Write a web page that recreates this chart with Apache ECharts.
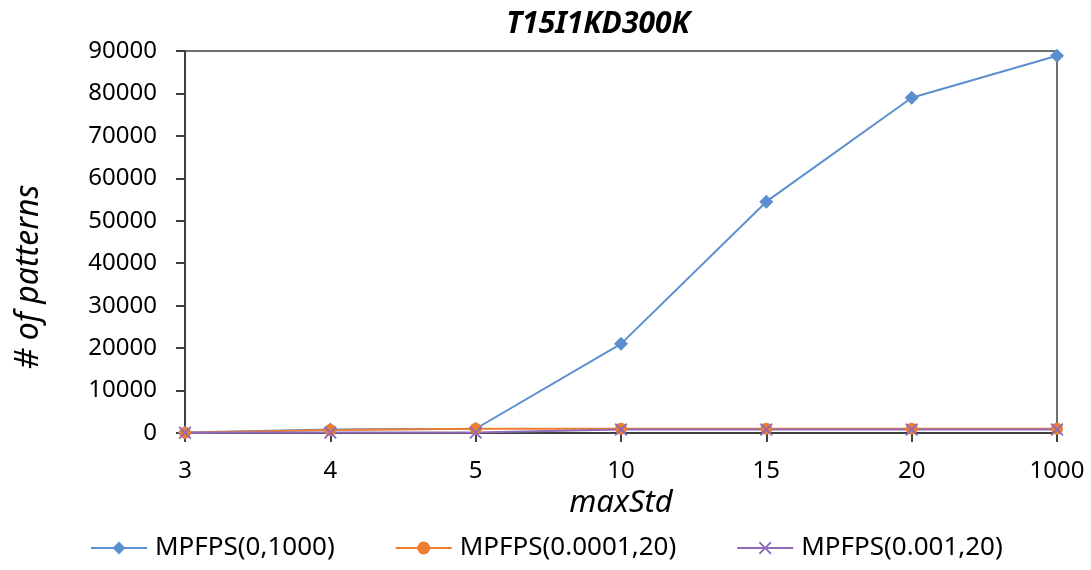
<!DOCTYPE html>
<html>
<head>
<meta charset="utf-8">
<script src="https://cdn.jsdelivr.net/npm/echarts@6/dist/echarts.min.js"></script>
<style>
  html, body { margin: 0; padding: 0; background: #fff; }
  #chart { width: 1091px; height: 570px; }
</style>
</head>
<body>
<div id="chart"></div>
<script>
// maxStd settings on the x axis
const categories = ['3', '4', '5', '10', '15', '20', '1000'];
// number of patterns found by each configuration
const mpfps_0_1000 = [100, 800, 1000, 21000, 54500, 79000, 88900];
const mpfps_00001_20 = [50, 700, 1000, 1000, 1000, 1000, 1000];
const mpfps_0001_20 = [50, 100, 100, 800, 800, 800, 800];
const yTicks = { min: 0, max: 90000, interval: 10000 };

const font = 'Noto Sans, Open Sans, sans-serif';
const crossPath = 'path://M0,1L1,0L5,4L9,0L10,1L6,5L10,9L9,10L5,6L1,10L0,9L4,5Z';
const chart = echarts.init(document.getElementById('chart'));

function series(name, data, color, symbol, size) {
  return {
    name, type: 'line', data, symbol, symbolSize: size,
    lineStyle: { color, width: 2 },
    itemStyle: { color },
    emphasis: { disabled: true },
    z: 3
  };
}

chart.setOption({
  animation: false,
  title: {
    text: 'T15I1KD300K', left: 593, top: 4, textAlign: 'center',
    textStyle: { fontFamily: font, fontSize: 30, fontWeight: 'bold', fontStyle: 'italic', color: '#000' }
  },
  grid: {
    left: 185, right: 34, top: 51, bottom: 137, outerBoundsMode: 'none',
    show: true, borderColor: '#404040', borderWidth: 1.5
  },
  legend: {
    top: 530, left: 85, itemGap: 60, itemWidth: 56, itemHeight: 16,
    textStyle: { fontFamily: font, fontSize: 26, color: '#000', padding: [0, 0, 0, 3] },
    data: ['MPFPS(0,1000)', 'MPFPS(0.0001,20)', 'MPFPS(0.001,20)']
  },
  xAxis: {
    type: 'category', data: categories, boundaryGap: false,
    name: 'maxStd', nameLocation: 'middle', nameGap: 55,
    nameTextStyle: { fontFamily: font, fontSize: 31, fontStyle: 'italic', color: '#000' },
    axisLine: { lineStyle: { color: '#404040', width: 2 } },
    axisTick: { show: true, length: 9, lineStyle: { color: '#404040', width: 2 } },
    axisLabel: { fontFamily: font, fontSize: 24, color: '#000', margin: 26 }
  },
  yAxis: {
    type: 'value', min: yTicks.min, max: yTicks.max, interval: yTicks.interval,
    name: '# of patterns', nameLocation: 'middle', nameGap: 140, nameRotate: 90,
    nameTextStyle: { fontFamily: font, fontSize: 32, fontStyle: 'italic', color: '#000', padding: [0, 70, 0, 0] },
    splitLine: { show: false },
    axisLine: { show: true, lineStyle: { color: '#404040', width: 2 } },
    axisTick: { show: true, length: 9, lineStyle: { color: '#404040', width: 2 } },
    axisLabel: { fontFamily: font, fontSize: 24, color: '#000', margin: 28, formatter: v => String(v) }
  },
  series: [
    series('MPFPS(0,1000)', mpfps_0_1000, '#5b8fd0', 'diamond', 14),
    series('MPFPS(0.0001,20)', mpfps_00001_20, '#ed7d31', 'circle', 12),
    series('MPFPS(0.001,20)', mpfps_0001_20, '#8e6bb8', crossPath, 13)
  ]
});
</script>
</body>
</html>
